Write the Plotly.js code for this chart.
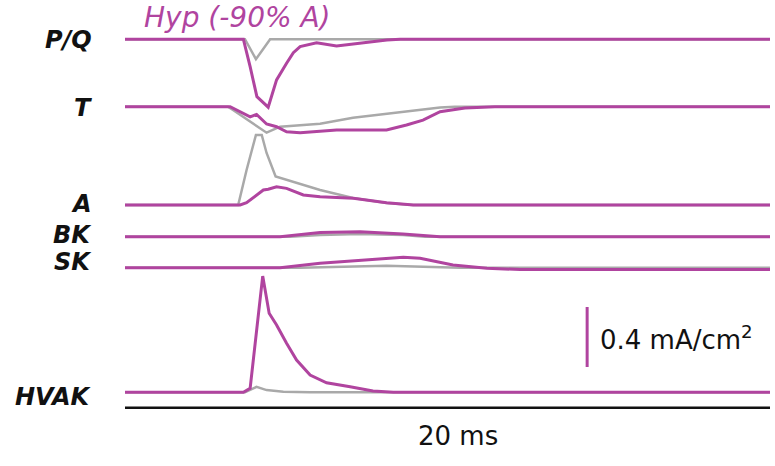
<!DOCTYPE html>
<html>
<head>
<meta charset="utf-8">
<script src="https://cdn.plot.ly/plotly-3.0.1.min.js"></script>
<style>html,body{margin:0;padding:0;background:#fff;}#chart{width:775px;height:466px;}</style>
</head>
<body>
<div id="chart"></div>
<script>
// Channel names (top to bottom)
const channels = ["P/Q", "T", "A", "BK", "SK", "HVAK"];
const conditionLabel = "Hyp (-90% A)";

// Time (ms) and current (mA/cm², relative to each trace's baseline)
// Hyp (-90% A) condition (purple)
const pqHypT = [0, 3.67, 3.88, 4.09, 4.44, 4.70, 5.01, 5.22, 5.43, 5.94, 6.56, 7.38, 8.12, 8.53, 20];
const pqHypI = [0, 0, -0.183, -0.383, -0.453, -0.271, -0.16, -0.09, -0.049, -0.023, -0.045, -0.023, -0.005, 0, 0];
const tHypT = [0, 3.26, 3.88, 4.08, 4.39, 4.70, 5.01, 5.43, 6.56, 8.11, 8.73, 9.24, 9.77, 10.54, 11.47, 20];
const tHypI = [0, 0, -0.067, -0.051, -0.115, -0.133, -0.167, -0.173, -0.155, -0.155, -0.122, -0.089, -0.033, -0.009, 0, 0];
const aHypT = [0, 3.57, 3.77, 4.03, 4.29, 4.44, 4.70, 5.01, 5.53, 6.05, 7.08, 8.11, 8.94, 20];
const aHypI = [0, 0, 0.015, 0.06, 0.1, 0.105, 0.122, 0.111, 0.067, 0.055, 0.045, 0.015, 0, 0];
const bkHypT = [0, 4.81, 6.05, 7.29, 8.62, 9.77, 20];
const bkHypI = [0, 0, 0.027, 0.033, 0.018, 0, 0];
const skHypT = [0, 4.81, 6.05, 7.60, 8.63, 9.15, 9.77, 10.17, 11.22, 12.25, 20];
const skHypI = [0, 0, 0.029, 0.056, 0.069, 0.063, 0.033, 0.018, -0.004, -0.012, -0.012];
const hvakHypT = [0, 3.67, 3.88, 4.27, 4.47, 4.70, 5.01, 5.32, 5.74, 6.25, 6.98, 7.69, 8.32, 20];
const hvakHypI = [0, 0, 0.027, 0.775, 0.527, 0.449, 0.327, 0.215, 0.115, 0.064, 0.037, 0.009, 0, 0];

// Control condition (gray)
const pqCtlT = [0, 3.72, 4.06, 4.50, 20];
const pqCtlI = [0, 0, -0.133, 0, 0];
const tCtlT = [0, 3.19, 3.35, 3.97, 4.39, 4.81, 5.43, 6.05, 7.07, 8.53, 9.77, 10.23, 20];
const tCtlI = [0, 0, -0.022, -0.109, -0.173, -0.133, -0.122, -0.113, -0.073, -0.037, -0.005, 0, 0];
const aCtlT = [0, 3.51, 3.77, 4.06, 4.24, 4.39, 4.67, 5.22, 6.05, 7.07, 8.11, 8.93, 20];
const aCtlI = [0, 0, 0.233, 0.467, 0.467, 0.347, 0.19, 0.155, 0.1, 0.047, 0.013, 0, 0];
const bkCtlT = [0, 5.12, 6.05, 7.29, 8.62, 9.30, 20];
const bkCtlI = [0, 0, 0.011, 0.018, 0.011, 0, 0];
const skCtlT = [0, 5.43, 8.11, 9.67, 10.39, 20];
const skCtlI = [0, 0, 0.013, 0.007, 0, 0];
const hvakCtlT = [0, 3.72, 3.98, 4.08, 4.39, 4.91, 5.74, 20];
const hvakCtlI = [0, 0, 0.027, 0.037, 0.015, 0.004, 0, 0];

// Scale bars
const scaleCurrent = 0.4;   // mA/cm²
const scaleTime = 20;       // ms
const scaleCurrentLabel = "0.4 mA/cm<sup>2</sup>";
const scaleTimeLabel = "20 ms";

// Vertical stacking offsets of each channel baseline (mA/cm²)
const offsets = [2.845, 2.395, 1.74, 1.529, 1.322, 0.491];
const labelY = [2.84, 2.387, 1.747, 1.543, 1.36, 0.457];

const PURPLE = "#b0449f";
const GRAY = "#a9a9a9";

const hyp = [[pqHypT, pqHypI], [tHypT, tHypI], [aHypT, aHypI], [bkHypT, bkHypI], [skHypT, skHypI], [hvakHypT, hvakHypI]];
const ctl = [[pqCtlT, pqCtlI], [tCtlT, tCtlI], [aCtlT, aCtlI], [bkCtlT, bkCtlI], [skCtlT, skCtlI], [hvakCtlT, hvakCtlI]];

const traces = [];
ctl.forEach((d, i) => {
  traces.push({x: d[0], y: d[1].map(v => v + offsets[i]), mode: "lines", type: "scatter",
    line: {color: GRAY, width: 2.5, shape: "linear"}, hoverinfo: "skip", showlegend: false});
});
hyp.forEach((d, i) => {
  traces.push({x: d[0], y: d[1].map(v => v + offsets[i]), mode: "lines", type: "scatter",
    line: {color: PURPLE, width: 3, shape: "linear"}, hoverinfo: "skip", showlegend: false});
});
// time scale bar (black)
traces.push({x: [0, scaleTime], y: [0.389, 0.389], mode: "lines", type: "scatter",
  line: {color: "#111111", width: 2.5}, hoverinfo: "skip", showlegend: false});
// current scale bar (purple)
traces.push({x: [14.33, 14.33], y: [0.66, 0.66 + scaleCurrent], mode: "lines", type: "scatter",
  line: {color: PURPLE, width: 3}, hoverinfo: "skip", showlegend: false});

const annotations = channels.map((c, i) => ({
  x: -0.048, y: labelY[i], xref: "paper", yref: "y", xanchor: "right", yanchor: "middle",
  text: "<b><i>" + c + "</i></b>", showarrow: false,
  font: {family: "DejaVu Sans", size: 24, color: "#111111"}
}));
annotations.push({x: 0.53, y: 2.993, xref: "x", yref: "y", xanchor: "left", yanchor: "middle",
  text: "<i>" + conditionLabel + "</i>", showarrow: false,
  font: {family: "DejaVu Sans", size: 28, color: PURPLE}});
annotations.push({x: 14.67, y: 0.853, xref: "x", yref: "y", xanchor: "left", yanchor: "middle",
  text: scaleCurrentLabel, showarrow: false,
  font: {family: "DejaVu Sans", size: 26, color: "#111111"}});
annotations.push({x: 10.33, y: 0.2, xref: "x", yref: "y", xanchor: "center", yanchor: "middle",
  text: scaleTimeLabel, showarrow: false,
  font: {family: "DejaVu Sans", size: 26, color: "#111111"}});

const layout = {
  width: 775, height: 466,
  margin: {l: 125, r: 5, t: 0, b: 0, pad: 0},
  paper_bgcolor: "#ffffff", plot_bgcolor: "#ffffff",
  xaxis: {range: [0, 20], visible: false, fixedrange: true},
  yaxis: {range: [0, 466 / 150], visible: false, fixedrange: true},
  annotations: annotations,
  showlegend: false
};

Plotly.newPlot("chart", traces, layout, {staticPlot: true, displayModeBar: false});
</script>
</body>
</html>
